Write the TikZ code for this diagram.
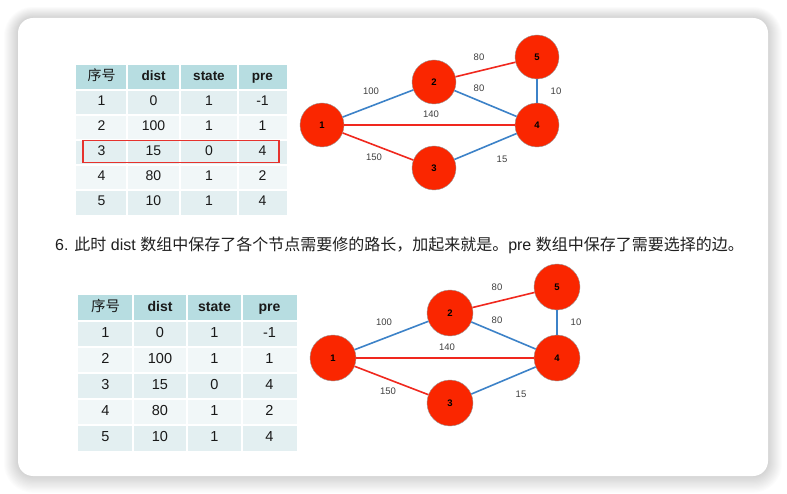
\documentclass[tikz,border=0pt]{standalone}
\usepackage{fontspec}
\setmainfont{Liberation Sans}
\newfontfamily\cjk{Noto Sans CJK SC}
\definecolor{nodered}{RGB}{250,38,0}
\definecolor{edgered}{RGB}{240,40,30}
\definecolor{edgeblue}{RGB}{60,130,200}
\definecolor{hdr}{RGB}{183,221,225}
\definecolor{rowA}{RGB}{227,239,241}
\definecolor{rowB}{RGB}{241,247,248}
\definecolor{boxred}{RGB}{230,50,45}
\begin{document}
\begin{tikzpicture}[x=1pt,y=-1pt,
  vtx/.style={circle,fill=nodered,draw=gray!80,line width=0.4pt,minimum size=#1,inner sep=0pt,font=\bfseries\fontsize{9.5}{10}\selectfont},
  vtx/.default=44pt,
  bl/.style={draw=edgeblue,line width=1.6pt},
  rd/.style={draw=edgered,line width=1.6pt},
  lbl/.style={inner sep=0pt,text=black!75,font=\fontsize{9.5}{11}\selectfont},
  cell/.style={inner sep=0pt,text height=0.72em,text depth=0.02em,text=black!90,font=\fontsize{#1}{16}\selectfont},
  hcell/.style={inner sep=0pt,text height=0.72em,text depth=0.02em,text=black!90,font=\bfseries\fontsize{#1}{16}\selectfont},
  sep/.style={draw=white,line width=1.5pt}]
\useasboundingbox (0,0) rectangle (787,494);
% card shadow
\foreach \i in {1,...,14}{
  \fill[black,opacity=0.011] (18-\i,18-\i*0.8) [rounded corners=15+\i] rectangle (768+\i,476+\i*1.2);
}
\fill[white,rounded corners=15] (18,18) rectangle (768,476);

\def\rowsdata{1/0/1/-1,2/100/1/1,3/15/0/4,4/80/1/2,5/10/1/4}
% ---------- table 1 ----------
\fill[hdr] (76,65) rectangle (287,90);
\node[cell=14] (t1h1) at (101.5,77.5) {\cjk 序号};
\node[hcell=13.5] (t1h2) at (153.5,77.5) {dist};
\node[hcell=13.5] (t1h3) at (209,77.5) {state};
\node[hcell=13.5] (t1h4) at (262.5,77.5) {pre};
\foreach[count=\r] \a/\b/\c/\d in \rowsdata{
  \pgfmathsetmacro\yt{65+25*\r}
  \pgfmathsetmacro\yc{\yt+12.5}
  \ifodd\r\def\rc{rowA}\else\def\rc{rowB}\fi
  \fill[\rc] (76,\yt) rectangle (287,\yt+25);
  \node[cell=14] (t1r\r a) at (101.5,\yc) {\a};
  \node[cell=14] (t1r\r b) at (153.5,\yc) {\b};
  \node[cell=14] (t1r\r c) at (209,\yc) {\c};
  \node[cell=14] (t1r\r d) at (262.5,\yc) {\d};
}
\foreach \x in {127,180,238}{\draw[sep] (\x,65) -- (\x,215);}
\foreach \y in {90,115,140,165,190}{\draw[sep] (76,\y) -- (287,\y);}
\draw[boxred,line width=1.4pt] (83,140.5) rectangle (279,162.5);

% ---------- graph 1 ----------
\node[vtx] (a1) at (322,125) {1};
\node[vtx] (a2) at (434,82) {2};
\node[vtx] (a5) at (537,57) {5};
\node[vtx] (a4) at (537,125) {4};
\node[vtx] (a3) at (434,168) {3};
\draw[bl] (a1) -- (a2);
\draw[rd] (a1) -- (a4);
\draw[rd] (a1) -- (a3);
\draw[rd] (a2) -- (a5);
\draw[bl] (a2) -- (a4);
\draw[bl] (a5) -- (a4);
\draw[bl] (a3) -- (a4);
\node[lbl] (a12) at (371,91) {100};
\node[lbl] (a14) at (431,114) {140};
\node[lbl] (a13) at (374,157) {150};
\node[lbl] (a25) at (479,57) {80};
\node[lbl] (a24) at (479,88) {80};
\node[lbl] (a54) at (556,91) {10};
\node[lbl] (a34) at (502,159) {15};

% ---------- sentence ----------
\node[anchor=west,inner sep=0pt,text=black!88,font=\fontsize{16}{18}\selectfont] (txt) at (55,245)
  {6. {\cjk 此时} dist {\cjk 数组中保存了各个节点需要修的路长，加起来就是。}pre {\cjk 数组中保存了需要选择的边。}};

% ---------- table 2 ----------
\fill[hdr] (78,295) rectangle (297,321);
\node[cell=14.5] (t2h1) at (105.5,308) {\cjk 序号};
\node[hcell=14] (t2h2) at (160,308) {dist};
\node[hcell=14] (t2h3) at (214.5,308) {state};
\node[hcell=14] (t2h4) at (269.5,308) {pre};
\foreach[count=\r] \a/\b/\c/\d in \rowsdata{
  \pgfmathsetmacro\yt{295+26*\r}
  \pgfmathsetmacro\yc{\yt+13}
  \ifodd\r\def\rc{rowA}\else\def\rc{rowB}\fi
  \fill[\rc] (78,\yt) rectangle (297,\yt+26);
  \node[cell=14.5] (t2r\r a) at (105.5,\yc) {\a};
  \node[cell=14.5] (t2r\r b) at (160,\yc) {\b};
  \node[cell=14.5] (t2r\r c) at (214.5,\yc) {\c};
  \node[cell=14.5] (t2r\r d) at (269.5,\yc) {\d};
}
\foreach \x in {133,187,242}{\draw[sep] (\x,295) -- (\x,451);}
\foreach \y in {321,347,373,399,425}{\draw[sep] (78,\y) -- (297,\y);}

% ---------- graph 2 ----------
\node[vtx=46pt] (b1) at (333,358) {1};
\node[vtx=46pt] (b2) at (450,313) {2};
\node[vtx=46pt] (b5) at (557,287) {5};
\node[vtx=46pt] (b4) at (557,358) {4};
\node[vtx=46pt] (b3) at (450,403) {3};
\draw[bl] (b1) -- (b2);
\draw[rd] (b1) -- (b4);
\draw[rd] (b1) -- (b3);
\draw[rd] (b2) -- (b5);
\draw[bl] (b2) -- (b4);
\draw[bl] (b5) -- (b4);
\draw[bl] (b3) -- (b4);
\node[lbl] (b12) at (384,322) {100};
\node[lbl] (b14) at (447,347) {140};
\node[lbl] (b13) at (388,391) {150};
\node[lbl] (b25) at (497,287) {80};
\node[lbl] (b24) at (497,320) {80};
\node[lbl] (b54) at (576,322) {10};
\node[lbl] (b34) at (521,394) {15};
\end{tikzpicture}
\end{document}
